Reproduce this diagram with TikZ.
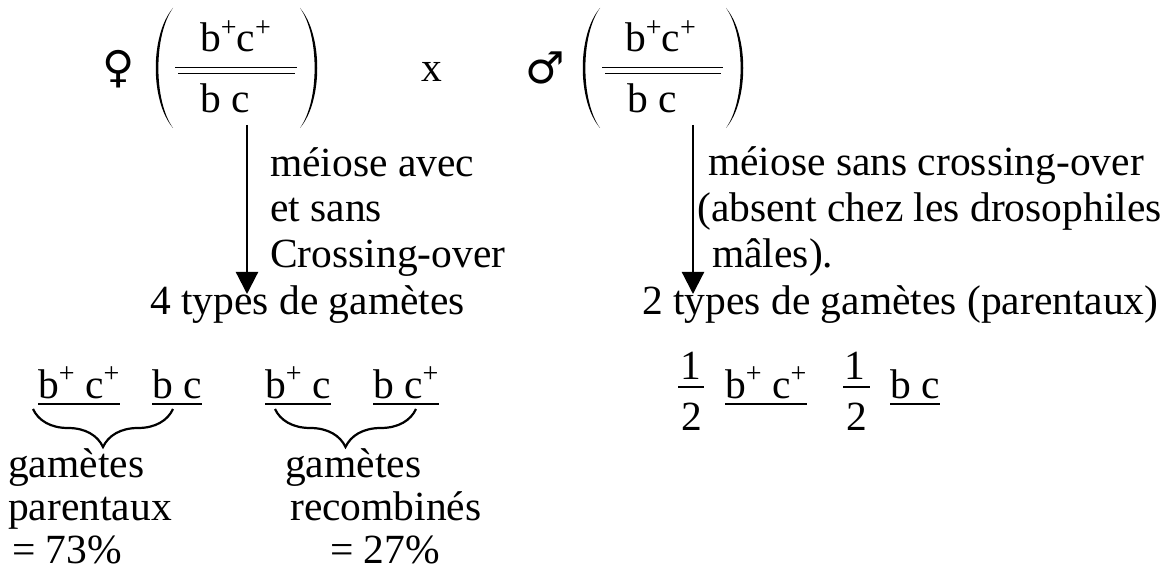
\documentclass[tikz,border=0pt]{standalone}
\usepackage{fontspec}
\setmainfont{Liberation Serif}
\newfontfamily\symfont{DejaVu Sans}
\usetikzlibrary{arrows.meta,decorations.pathreplacing}
\newcommand{\lparenat}[3]{\fill (#1,#2) .. controls (#1-23,#2+27) and (#1-23,#3-27) .. (#1,#3) .. controls (#1-19.5,#3-27) and (#1-19.5,#2+27) .. (#1,#2) -- cycle;}
\newcommand{\rparenat}[3]{\fill (#1,#2) .. controls (#1+23,#2+27) and (#1+23,#3-27) .. (#1,#3) .. controls (#1+19.5,#3-27) and (#1+19.5,#2+27) .. (#1,#2) -- cycle;}
\newcommand{\plussup}{\raisebox{0.38em}{\fontsize{28}{28}\selectfont +}}
\begin{document}
\begin{tikzpicture}[x=1pt,y=-1pt,
  txt/.style={inner sep=0pt, anchor=base west, font=\fontsize{41.5}{43}\selectfont},
  sym/.style={inner sep=0pt, font=\symfont\fontsize{44}{44}\selectfont},
  arr/.style={line width=2.2pt,-{Triangle[width=22pt,length=22pt]}},
  ul/.style={line width=1.8pt},
  dl/.style={line width=1.8pt},
  brc/.style={decorate,decoration={brace,amplitude=38pt,aspect=0.5},line width=2.2pt}
]
\useasboundingbox (0,0) rectangle (1176,580);
\fill[white] (0,0) rectangle (1176,580);

% parents
\node[sym] (fem) at (119,69) {♀};
\node[txt,anchor=base] (cross) at (432,82) {x};
\node[sym] (mal) at (545,68) {♂};

\lparenat{173}{8}{128}
\rparenat{300}{8}{128}
\node[txt] (ftop) at (200,52) {b\plussup c\plussup};
\node[txt] (fbot) at (200,113) {b c};
\draw[dl] (175,67.5) -- (297,67.5);
\draw[dl] (178,73.5) -- (295,73.5);

\lparenat{600}{8}{128}
\rparenat{726}{8}{128}
\node[txt] (mtop) at (625,52) {b\plussup c\plussup};
\node[txt] (mbot) at (627,113) {b c};
\draw[dl] (602,67.5) -- (723,67.5);
\draw[dl] (605,73.5) -- (721,73.5);

% left branch
\coordinate (la0) at (247,125);
\coordinate (la1) at (247,294);
\draw[arr] (la0) -- (la1);
\node[txt] (l1) at (270,177) {méiose avec};
\node[txt] (l2) at (270,222) {et sans};
\node[txt] (l3) at (270,268) {Crossing-over};
\node[txt] (ltypes) at (150,314) {4 types de gamètes};

% right branch
\coordinate (ra0) at (693,125);
\coordinate (ra1) at (693,294);
\draw[arr] (ra0) -- (ra1);
\node[txt] (r1) at (708,176) {méiose sans crossing-over};
\node[txt] (r2) at (697,222) {(absent chez les drosophiles};
\node[txt] (r3) at (712,268) {mâles).};
\node[txt] (rtypes) at (642,314) {2 types de gamètes (parentaux)};

% female gametes
\node[txt] (g1) at (38,398) {b\plussup{} c\plussup};
\node[txt] (g2) at (152,398) {b c};
\node[txt] (g3) at (265,398) {b\plussup{} c};
\node[txt] (g4) at (373,398) {b c\plussup};

% male gametes
\node[txt,anchor=base] (n1) at (691,379) {1};
\node[txt,anchor=base] (d1) at (692,430) {2};
\draw[ul] (678,387) -- (704,387);
\node[txt] (m1) at (725,398) {b\plussup{} c\plussup};
\node[txt,anchor=base] (n2) at (855,379) {1};
\node[txt,anchor=base] (d2) at (857,430) {2};
\draw[ul] (843,387) -- (870,387);
\node[txt] (m2) at (890,398) {b c};

\foreach \n in {g1,g2,g3,g4,m1,m2}
  \draw[ul] ([yshift=-6pt]\n.base west) -- ([yshift=-6pt]\n.base east);

% braces
\coordinate (b1r) at (173,409);
\coordinate (b1l) at (33,409);
\coordinate (b2r) at (416,409);
\coordinate (b2l) at (275,409);
\draw[brc] (b1r) -- (b1l);
\draw[brc] (b2r) -- (b2l);

% labels
\node[txt] (p1) at (8,477) {gamètes};
\node[txt] (p2) at (8,520) {parentaux};
\node[txt] (p3) at (12,563) {= 73\%};
\node[txt] (q1) at (285,477) {gamètes};
\node[txt] (q2) at (290,520) {recombinés};
\node[txt] (q3) at (330,563) {= 27\%};
\end{tikzpicture}
\end{document}
